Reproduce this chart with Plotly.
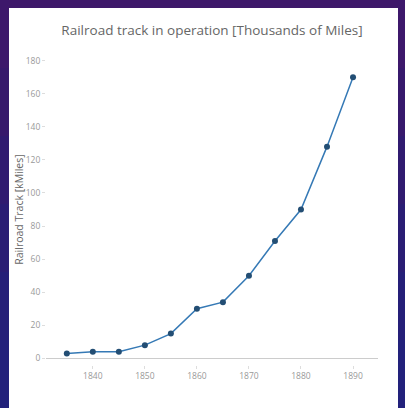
import plotly.graph_objects as go

years = [1835, 1840, 1845, 1850, 1855, 1860, 1865, 1870, 1875, 1880, 1885, 1890]
track_kmiles = [3, 4, 4, 8, 15, 30, 34, 50, 71, 90, 128, 170]
x_ticks = [1840, 1850, 1860, 1870, 1880, 1890]
y_ticks = [0, 20, 40, 60, 80, 100, 120, 140, 160, 180]

W, H = 405, 408
L, R, T, B = 46, 378, 54, 365


def px_x(p):
    return (p - L) / (R - L)


def px_y(p):
    return (B - p) / (B - T)


fig = go.Figure()
fig.add_trace(go.Scatter(
    x=years, y=track_kmiles, mode="lines+markers",
    line=dict(color="#3579b5", width=1.5),
    marker=dict(color="#234e74", size=6),
    showlegend=False,
))

# purple frame around the white card (approximate vertical gradient)
frame_cols = ["#3d186b", "#37196c", "#301b70", "#2a1d74", "#251f78", "#22217b"]
n = len(frame_cols)
for i, c in enumerate(frame_cols):
    ya, yb = i * H / n, min((i + 1) * H / n + 0.5, H)
    for xa, xb in ((0, 9), (398, W)):
        fig.add_shape(type="rect", xref="paper", yref="paper", layer="above",
                      x0=px_x(xa), x1=px_x(xb), y0=px_y(yb), y1=px_y(ya),
                      fillcolor=c, line=dict(width=0))
fig.add_shape(type="rect", xref="paper", yref="paper", layer="above",
              x0=px_x(9), x1=px_x(398), y0=px_y(8), y1=px_y(0),
              fillcolor="#3e186a", line=dict(width=0))

fig.update_layout(
    width=W, height=H,
    paper_bgcolor="white", plot_bgcolor="white",
    margin=dict(l=L, r=W - R, t=T, b=H - B, autoexpand=False),
    font=dict(family="Open Sans", color="#888"),
    title=dict(text="Railroad track in operation [Thousands of Miles]",
               x=212 / W, xanchor="center", y=1 - 30 / H, yanchor="middle",
               font=dict(size=13.5, color="#666")),
    xaxis=dict(range=[1831, 1894.8], tickvals=x_ticks, showgrid=False,
               zeroline=False, showline=False, ticks="outside", ticklen=3,
               tickcolor="#ddd", tickfont=dict(size=8.5, color="#999")),
    yaxis=dict(range=[-4, 184], tickvals=y_ticks, showgrid=False,
               zeroline=True, zerolinecolor="#ccc", zerolinewidth=1,
               showline=False, ticks="outside", ticklen=3, tickcolor="#ddd",
               tickfont=dict(size=8.5, color="#999"),
               title=dict(text="Railroad Track [kMiles]",
                          font=dict(size=10.5, color="#666"), standoff=0)),
)

fig.write_html("out.html")
